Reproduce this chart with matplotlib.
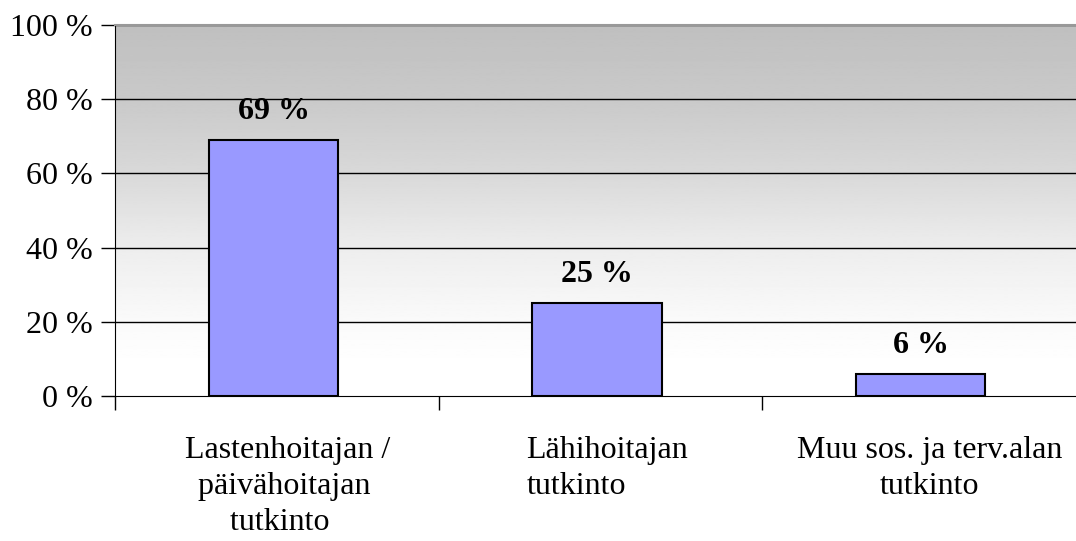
import numpy as np
import matplotlib
matplotlib.use("Agg")
import matplotlib.pyplot as plt
from matplotlib.transforms import offset_copy

plt.rcParams['font.family'] = ['Liberation Serif', 'DejaVu Serif']

# Chart data (no-break spaces nudge lines like in the original)
categories = ["Lastenhoitajan /\npäivähoitajan\u00a0\ntutkinto\u00a0\u00a0",
              "Lähihoitajan\ntutkinto",
              "Muu sos. ja terv.alan\ntutkinto"]
values = [69, 25, 6]
yticks = [0, 20, 40, 60, 80, 100]

fig = plt.figure(figsize=(10.76, 5.41), dpi=100)
ax = fig.add_axes([115 / 1076, 1 - 396 / 541, 1 - 115 / 1076, (396 - 25) / 541])

# x in category units: boundaries at 0,1,2,3; plot cut off at the right image edge
xmax = (1076 - 115) / 323.5

# gray -> white gradient background (lighter towards the bottom)
yy = np.linspace(0, 1, 256)
shade = np.interp(yy, [0, 0.08, 0.2, 0.4, 0.6, 0.8, 1.0],
                  [1.0, 1.0, 0.98, 0.93, 0.85, 0.79, 0.75])
ax.imshow(shade.reshape(-1, 1), extent=[0, xmax, 0, 100], aspect='auto', cmap='gray',
          vmin=0, vmax=1, origin='lower', zorder=0, interpolation='bilinear')

# gridlines
for y in yticks[1:]:
    ax.axhline(y, color='black', lw=1, zorder=1)

x = np.arange(len(values)) + 0.5
bars = ax.bar(x - 0.01, values, width=0.4, color='#9999FF', edgecolor='black',
              linewidth=1.5, zorder=2)

for b, v in zip(bars, values):
    ax.annotate(f"{v} %", (b.get_x() + b.get_width() / 2, v),
                xytext=(0, 10), textcoords='offset points',
                ha='center', va='bottom', fontsize=23, fontweight='bold', zorder=3)

ax.set_yticks(yticks)
ax.set_yticklabels([f"{t} %" for t in yticks], fontsize=23)
ax.set_xticks([0, 1, 2, 3])
ax.set_xticklabels([])
ax.tick_params(axis='x', which='major', length=10, width=1, direction='out')
ax.tick_params(axis='y', length=10, width=1, direction='out', pad=6)

# category labels, drawn as text under each category (slightly uneven like the original)
label_dx = [8, 5, 4]           # points, horizontal nudge
label_align = ['center', 'left', 'center']
for xi, txt, dx, al in zip(x, categories, label_dx, label_align):
    tr = offset_copy(ax.get_xaxis_transform(), fig=fig, x=dx, y=-28.5, units='points')
    ax.text(xi, 0, txt, transform=tr, ha='center', va='top', fontsize=23,
            multialignment=al, linespacing=1.32, clip_on=False)

# set limits after ticks so they are not expanded
ax.set_xlim(0, xmax)
ax.set_ylim(0, 100)

ax.spines['right'].set_visible(False)
ax.spines['top'].set_color('#999999')
ax.spines['top'].set_linewidth(1.5)
ax.spines['left'].set_color('black')
ax.spines['bottom'].set_color('black')

plt.savefig('out.png', dpi=100)
